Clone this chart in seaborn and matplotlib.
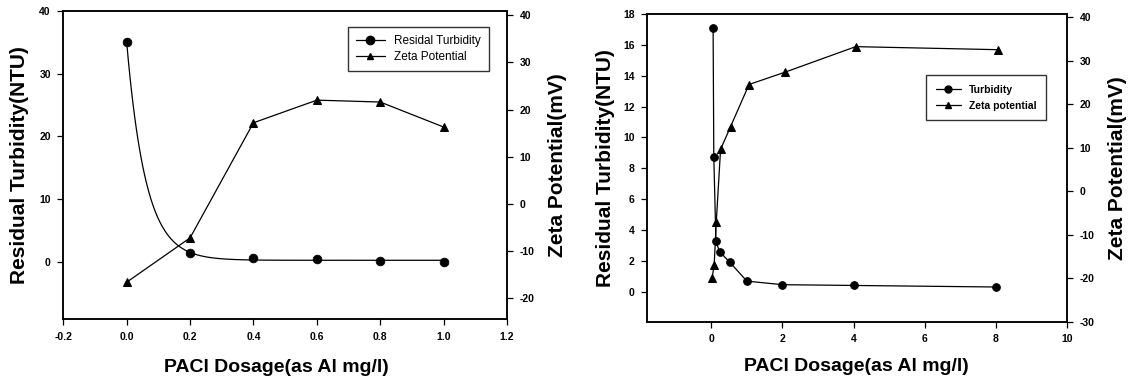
import numpy as np
import seaborn as sns
import matplotlib
matplotlib.use("Agg")
from matplotlib import pyplot as plt
from matplotlib.lines import Line2D

# left panel (dosage 0 - 1 mg/l)
dose_a = [0.0, 0.2, 0.4, 0.6, 0.8, 1.0]
turb_a = [35.0, 1.5, 0.6, 0.4, 0.1, 0.0]
zeta_a = [-16.6, -7.2, 17.2, 22.0, 21.6, 16.3]

# right panel (dosage 0 - 8 mg/l)
dose_b_turb = [0.05, 0.07, 0.13, 0.23, 0.52, 1.0, 2.0, 4.0, 8.0]
turb_b = [17.1, 8.7, 3.25, 2.6, 1.9, 0.68, 0.45, 0.4, 0.3]
dose_b_zeta = [0.02, 0.08, 0.14, 0.26, 0.54, 1.06, 2.06, 4.06, 8.06]
zeta_b = [-20.0, -17.0, -7.0, 9.6, 14.8, 24.5, 27.3, 33.2, 32.5]

sns.set_style("ticks")
plt.rcParams["font.family"] = ["Liberation Sans", "DejaVu Sans"]
plt.rcParams["axes.unicode_minus"] = False
plt.rcParams["axes.linewidth"] = 1.1
plt.rcParams["text.color"] = "black"
plt.rcParams["axes.labelcolor"] = "black"

# exponential decay fit for the left turbidity curve: y = a*exp(-b*x) + c
xa = np.array(dose_a)
ya = np.array(turb_a)
best = None
for b in np.linspace(1, 40, 391):
    A = np.column_stack([np.exp(-b * xa), np.ones_like(xa)])
    coef = np.linalg.lstsq(A, ya, rcond=None)[0]
    err = np.sum((A @ coef - ya) ** 2)
    if best is None or err < best[0]:
        best = (err, b, coef)
_, b_fit, (a_fit, c_fit) = best
x_fit = np.linspace(0, 1.0, 200)
y_fit = a_fit * np.exp(-b_fit * x_fit) + c_fit

fig = plt.figure(figsize=(11.31, 3.85), dpi=100)
W, H = 1131, 385


def add_axes(l, t, r, btm):
    return fig.add_axes([l / W, 1 - btm / H, (r - l) / W, (btm - t) / H])


def style(ax):
    ax.tick_params(direction="out", length=4, width=0.9, labelsize=7.5, colors="black", pad=5)
    for lab in ax.get_xticklabels() + ax.get_yticklabels():
        lab.set_fontweight("bold")
    for s in ax.spines.values():
        s.set_visible(True)
        s.set_color("black")
        s.set_linewidth(1.1)


label_font = dict(fontsize=14, fontweight="bold")
ylab_font = dict(fontsize=15, fontweight="bold")

# ---------- left chart ----------
ax1 = add_axes(63.3, 11, 507, 319)
sns.lineplot(x=x_fit, y=y_fit, color="black", lw=0.9, ax=ax1)
sns.scatterplot(x=dose_a, y=turb_a, color="black", s=40, edgecolor="black", ax=ax1, zorder=3)
ax1.set_xlim(-0.2, 1.2)
ax1.set_ylim(-9.1, 40)
ax1.set_xticks(np.arange(-0.2, 1.21, 0.2))
ax1.set_xticklabels(["-0.2", "0.0", "0.2", "0.4", "0.6", "0.8", "1.0", "1.2"])
ax1.set_yticks([0, 10, 20, 30, 40])
ax1.set_xlabel("PACl Dosage(as Al mg/l)", **label_font)
ax1.set_ylabel("Residual Turbidity(NTU)", **ylab_font)
ax1.xaxis.set_label_coords(0.48, -0.13)
ax1.yaxis.set_label_coords(-0.078, 0.5)

ax1b = ax1.twinx()
sns.lineplot(x=dose_a, y=zeta_a, color="black", lw=0.9, marker="^", markersize=6,
             markeredgecolor="black", ax=ax1b)
ax1b.set_ylim(-24.4, 40.9)
ax1b.set_yticks([-20, -10, 0, 10, 20, 30, 40])
ax1b.set_ylabel("Zeta Potential(mV)", **ylab_font)
ax1b.yaxis.set_label_coords(1.092, 0.5)
style(ax1)
style(ax1b)

h1 = [Line2D([], [], color="black", lw=0.9, marker="o", markersize=6),
      Line2D([], [], color="black", lw=0.9, marker="^", markersize=5)]
leg1 = ax1.legend(h1, ["Residal Turbidity", "Zeta Potential"], loc="upper right",
                  bbox_to_anchor=(0.973, 0.967), fontsize=8.5, frameon=True, fancybox=False,
                  edgecolor="black", handlelength=2.4, borderpad=0.7, labelspacing=0.3)
leg1.get_frame().set_linewidth(1.0)
leg1.set_zorder(5)

# ---------- right chart ----------
ax2 = add_axes(647.3, 14, 1067, 321.7)
sns.lineplot(x=dose_b_turb, y=turb_b, color="black", lw=0.9, marker="o", markersize=5.5,
             markeredgecolor="black", sort=False, estimator=None, ax=ax2)
ax2.set_xlim(-1.8, 10)
ax2.set_ylim(-1.95, 18.0)
ax2.set_xticks([0, 2, 4, 6, 8, 10])
ax2.set_yticks(range(0, 19, 2))
ax2.set_xlabel("PACl Dosage(as Al mg/l)", **label_font)
ax2.set_ylabel("Residual Turbidity(NTU)", **ylab_font)
ax2.xaxis.set_label_coords(0.497, -0.118)
ax2.yaxis.set_label_coords(-0.077, 0.5)

ax2b = ax2.twinx()
sns.lineplot(x=dose_b_zeta, y=zeta_b, color="black", lw=0.9, marker="^", markersize=5.5,
             markeredgecolor="black", sort=False, estimator=None, ax=ax2b)
ax2b.set_ylim(-30, 40.7)
ax2b.set_yticks(range(-30, 41, 10))
ax2b.set_ylabel("Zeta Potential(mV)", **ylab_font)
ax2b.yaxis.set_label_coords(1.098, 0.5)
style(ax2)
style(ax2b)

h2 = [Line2D([], [], color="black", lw=0.9, marker="o", markersize=5),
      Line2D([], [], color="black", lw=0.9, marker="^", markersize=5)]
leg2 = ax2.legend(h2, ["Turbidity", "Zeta potential"], loc="upper right",
                  bbox_to_anchor=(0.962, 0.818), frameon=True, fancybox=False,
                  edgecolor="black", handlelength=2.4, borderpad=0.9, labelspacing=0.6,
                  prop=dict(size=7.5, weight="bold"))
leg2.get_frame().set_linewidth(1.0)

for ax in (ax1b, ax2b):
    if ax.get_legend() is not None:
        ax.get_legend().remove()

fig.savefig("out.png", dpi=100, facecolor="white")
